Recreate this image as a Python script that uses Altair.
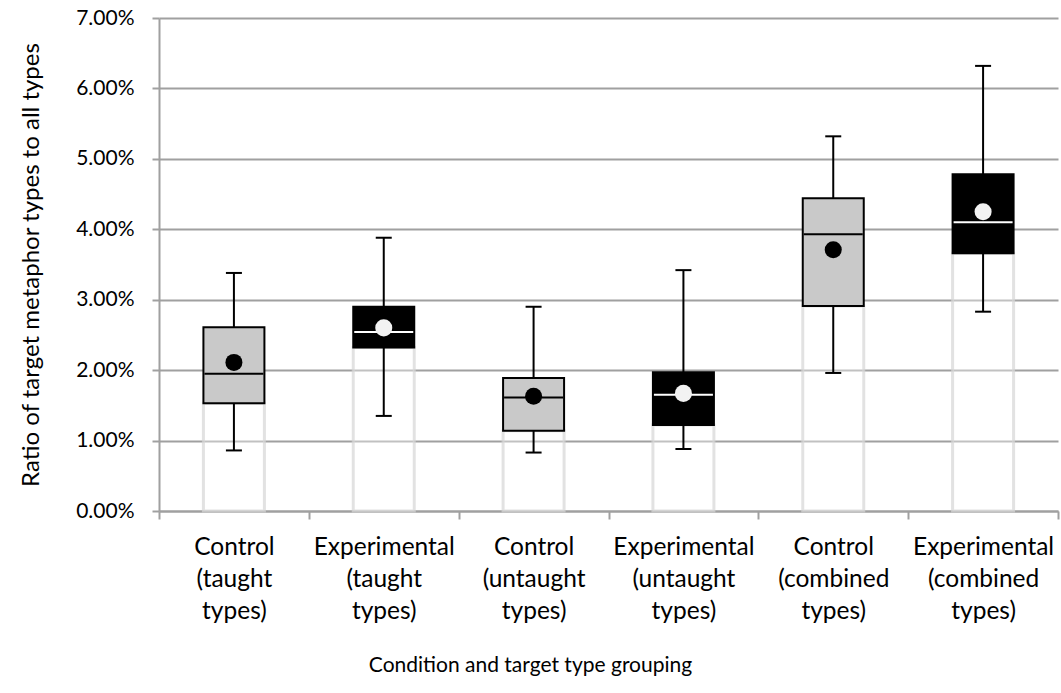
import altair as alt
import pandas as pd

# Box-plot summary per condition / target-type grouping (ratio values)
categories = [
    "Control|(taught|types)",
    "Experimental|(taught|types)",
    "Control|(untaught|types)",
    "Experimental|(untaught|types)",
    "Control|(combined|types)",
    "Experimental|(combined|types)",
]
groups = ["Control", "Experimental", "Control", "Experimental", "Control", "Experimental"]
whisker_low = [0.0086, 0.0135, 0.0083, 0.0088, 0.0196, 0.0283]
quartile1 = [0.0153, 0.0232, 0.0114, 0.0122, 0.0291, 0.0366]
medians = [0.0195, 0.0254, 0.0161, 0.0165, 0.0393, 0.0410]
quartile3 = [0.0261, 0.0290, 0.0189, 0.0197, 0.0444, 0.0478]
whisker_high = [0.0338, 0.0388, 0.0290, 0.0342, 0.0532, 0.0632]
means = [0.0211, 0.0260, 0.0163, 0.0167, 0.0371, 0.0425]

df = pd.DataFrame({
    "cat": categories,
    "group": groups,
    "lo": whisker_low,
    "q1": quartile1,
    "med": medians,
    "q3": quartile3,
    "hi": whisker_high,
    "mean": means,
    "zero": [0.0] * len(categories),
})

FONT = "Lato"
BOX_W = 61
PLOT_LEFT = 159
is_control = alt.datum.group == "Control"

x_enc = alt.X(
    "cat:N",
    sort=categories,
    scale=alt.Scale(paddingInner=0, paddingOuter=0),
    axis=alt.Axis(
        title="Condition and target type grouping",
        labelFont=FONT,
        titleFont=FONT,
        labelColor="black",
        titleColor="black",
        titleFontWeight="normal",
        labelExpr="split(datum.label, '|')",
        labelAngle=0,
        labelLineHeight=32,
        labelFontSize=24.5,
        labelPadding=16,
        labelOverlap=False,
        labelLimit=0,
        labelBaseline="top",
        tickBand="extent",
        tickSize=8,
        tickWidth=2,
        tickColor="#a0a0a0",
        domainColor="#a0a0a0",
        domainWidth=2,
        titleFontSize=21,
        titlePadding=32,
        titleX=530 - PLOT_LEFT,
        titleAlign="center",
        grid=False,
    ),
)

y_scale = alt.Scale(domain=[0, 0.07], nice=False, zero=True)
y_axis = alt.Axis(
    title="Ratio of target metaphor types to all types",
    labelFont=FONT,
    titleFont=FONT,
    labelColor="black",
    titleColor="black",
    titleFontWeight="normal",
    format=".2%",
    values=[0, 0.01, 0.02, 0.03, 0.04, 0.05, 0.06, 0.07],
    labelFontSize=21,
    labelPadding=18,
    tickSize=7,
    tickWidth=2,
    tickColor="#a0a0a0",
    domainColor="#a0a0a0",
    domainWidth=2,
    gridColor="#a0a0a0",
    gridWidth=2,
    titleFontSize=24,
    titlePadding=32,
)

base = alt.Chart(df)

# Transparent lower stack segment from zero to the first quartile
lower = base.mark_bar(
    size=BOX_W, fill="white", fillOpacity=0.35,
    stroke="#d6d6d6", strokeWidth=3, strokeOpacity=0.7,
).encode(
    x=x_enc,
    y=alt.Y("zero:Q", scale=y_scale, axis=y_axis),
    y2="q1:Q",
)

whisk_lo = base.mark_rule(color="black", strokeWidth=2).encode(
    x=x_enc, y=alt.Y("lo:Q", scale=y_scale), y2="q1:Q"
)
whisk_hi = base.mark_rule(color="black", strokeWidth=2).encode(
    x=x_enc, y=alt.Y("q3:Q", scale=y_scale), y2="hi:Q"
)
cap_lo = base.mark_tick(color="black", size=16, thickness=2, opacity=1).encode(
    x=x_enc, y=alt.Y("lo:Q", scale=y_scale)
)
cap_hi = base.mark_tick(color="black", size=16, thickness=2, opacity=1).encode(
    x=x_enc, y=alt.Y("hi:Q", scale=y_scale)
)

box = base.mark_bar(size=BOX_W, stroke="black", strokeWidth=2).encode(
    x=x_enc,
    y=alt.Y("q1:Q", scale=y_scale),
    y2="q3:Q",
    fill=alt.condition(is_control, alt.value("#c9c9c9"), alt.value("black")),
)

median = base.mark_tick(size=BOX_W - 2, thickness=2, opacity=1).encode(
    x=x_enc,
    y=alt.Y("med:Q", scale=y_scale),
    color=alt.condition(is_control, alt.value("black"), alt.value("white")),
)

mean_dot = base.mark_circle(size=290, opacity=1).encode(
    x=x_enc,
    y=alt.Y("mean:Q", scale=y_scale),
    color=alt.condition(is_control, alt.value("black"), alt.value("#f2f2f2")),
)

chart = alt.layer(
    lower, whisk_lo, whisk_hi, cap_lo, cap_hi, box, median, mean_dot
).properties(
    width=899,
    height=493,
    autosize=alt.AutoSizeParams(type="none"),
    padding={"left": PLOT_LEFT, "top": 18, "right": 3, "bottom": 182},
    background="white",
).configure_view(
    stroke=None
)

chart.save("out.html", embed_options={"renderer": "svg", "actions": False})
